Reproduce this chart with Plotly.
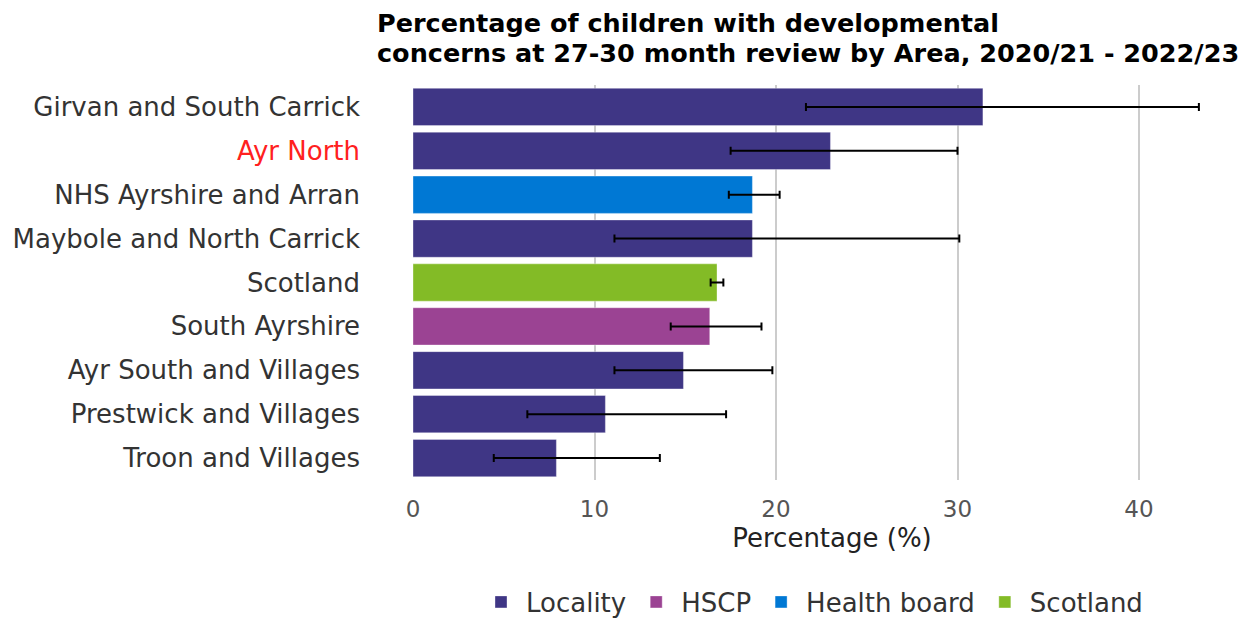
import plotly.graph_objects as go

areas = ["Girvan and South Carrick", "Ayr North", "NHS Ayrshire and Arran",
         "Maybole and North Carrick", "Scotland", "South Ayrshire",
         "Ayr South and Villages", "Prestwick and Villages", "Troon and Villages"]
area_type = ["Locality", "Locality", "Health board", "Locality", "Scotland",
             "HSCP", "Locality", "Locality", "Locality"]
values = [31.4, 23.0, 18.7, 18.7, 16.75, 16.35, 14.9, 10.6, 7.9]
lower_ci = [21.65, 17.5, 17.4, 11.1, 16.4, 14.2, 11.1, 6.3, 4.45]
upper_ci = [43.3, 30.0, 20.2, 30.1, 17.1, 19.2, 19.8, 17.25, 13.6]

groups = ["Locality", "HSCP", "Health board", "Scotland"]
colors = {"Locality": "#3F3685", "HSCP": "#9B4393",
          "Health board": "#0078D4", "Scotland": "#83BB26"}
highlight = "Ayr North"
title_lines = ["Percentage of children with developmental",
               "concerns at 27-30 month review by Area, 2020/21 - 2022/23"]

fig = go.Figure()
for g in groups:
    idx = [i for i, t in enumerate(area_type) if t == g]
    fig.add_trace(go.Bar(
        y=[areas[i] for i in idx],
        x=[values[i] for i in idx],
        orientation="h",
        name=g,
        width=0.85,
        marker=dict(color=colors[g], line=dict(color="rgba(255,255,255,0.35)", width=1)),
        error_x=dict(type="data", symmetric=False,
                     array=[upper_ci[i] - values[i] for i in idx],
                     arrayminus=[values[i] - lower_ci[i] for i in idx],
                     color="black", thickness=2, width=4),
    ))

ticktext = [f"<span style='color:#FF2020'>{a}</span>" if a == highlight else a for a in areas]

W, Hfig = 1243, 613   # page body has an 8px margin
OFF = 8
L, T = 413 - OFF, 85 - OFF
PB = 480 - OFF          # plot bottom in figure px
B = Hfig - PB
H = PB - T
PW = W - L

for k, line in enumerate(title_lines):
    yc = [23, 53][k] - OFF
    fig.add_annotation(
        text=f"<b>{line}</b>", xref="paper", yref="paper",
        x=(375 - OFF - L) / PW, y=(PB - yc) / H,
        xanchor="left", yanchor="middle", showarrow=False,
        font=dict(family="DejaVu Sans", size=25.5, color="black"),
    )

fig.update_layout(
    width=W, height=Hfig,
    barmode="overlay",
    plot_bgcolor="white", paper_bgcolor="white",
    font=dict(family="DejaVu Sans", size=24, color="#333333"),
    margin=dict(l=L, r=0, t=T, b=B, autoexpand=False),
    xaxis=dict(range=[0, PW / 18.15], tickvals=[0, 10, 20, 30, 40],
               showgrid=True, gridcolor="#CCCCCC", gridwidth=1.5,
               zeroline=False, showline=False, automargin=False,
               ticks="outside", ticklen=8, tickcolor="rgba(0,0,0,0)",
               tickfont=dict(size=23, color="#555555"),
               title=dict(text="Percentage (%)", font=dict(size=26, color="#222222"), standoff=8)),
    yaxis=dict(categoryorder="array", categoryarray=areas[::-1],
               tickvals=areas, ticktext=ticktext,
               showgrid=False, zeroline=False, showline=False, automargin=False,
               ticklabelstandoff=52,
               tickfont=dict(size=26, color="#333333")),
    legend=dict(orientation="h", x=(812 - OFF - L) / PW, xanchor="center",
                y=-(602 - OFF - PB) / H, yanchor="middle",
                font=dict(size=26, color="#333333"), traceorder="normal",
                itemwidth=40),
    showlegend=True,
)

fig.write_html("out.html")
